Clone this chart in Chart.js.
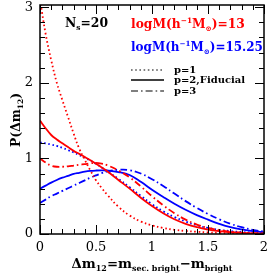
<!DOCTYPE html>
<html><head><meta charset="utf-8">
<script src="https://cdn.jsdelivr.net/npm/chart.js@4/dist/chart.umd.min.js"></script>
<style>html,body{margin:0;padding:0;background:#fff}#wrap{width:269px;height:274px;position:relative}</style>
</head><body><div id="wrap"><canvas id="c" width="269" height="274"></canvas></div>
<script>
const X = [0,0.05,0.1,0.15,0.2,0.25,0.3,0.35,0.4,0.45,0.5,0.55,0.6,0.7,0.8,0.9,1.0,1.1,1.2,1.3,1.4,1.5,1.6,1.7,1.8,1.9,2.0];
const redP1  = [3.1,2.65,2.3,2.0,1.77,1.55,1.33,1.13,0.98,0.84,0.71,0.61,0.52,0.36,0.245,0.165,0.115,0.08,0.056,0.04,0.03,0.021,0.015,0.011,0.008,0.006,0.004];
const redP2  = [1.5,1.40,1.31,1.25,1.2,1.15,1.1,1.06,1.02,0.975,0.93,0.88,0.83,0.715,0.6,0.48,0.37,0.275,0.195,0.135,0.09,0.058,0.037,0.023,0.014,0.008,0.005];
const redP3  = [1.0,0.945,0.905,0.89,0.89,0.895,0.905,0.915,0.925,0.935,0.94,0.93,0.91,0.84,0.75,0.63,0.5,0.38,0.275,0.19,0.125,0.08,0.05,0.03,0.018,0.01,0.006];
const blueP1 = [1.21,1.2,1.185,1.165,1.14,1.11,1.08,1.045,1.01,0.97,0.93,0.88,0.83,0.73,0.62,0.505,0.395,0.3,0.225,0.165,0.115,0.08,0.056,0.038,0.026,0.018,0.012];
const blueP2 = [0.6,0.64,0.68,0.715,0.745,0.77,0.795,0.81,0.825,0.835,0.84,0.842,0.84,0.82,0.78,0.69,0.585,0.49,0.4,0.32,0.25,0.19,0.135,0.09,0.06,0.037,0.022];
const blueP3 = [0.41,0.455,0.5,0.535,0.57,0.605,0.64,0.675,0.71,0.745,0.775,0.805,0.828,0.85,0.845,0.80,0.725,0.635,0.535,0.435,0.345,0.265,0.195,0.135,0.09,0.055,0.032];
const xTickLabels = ['0','0.5','1','1.5','2'];
const yTickLabels = ['0','1','2','3'];
const legendLabels = ['p=1','p=2,Fiducial','p=3'];

const RED='#ff0000', BLUE='#0000ff';
const DOT=[1.6,2.6], SOLID=[], DASHDOT=[7,3,1.6,3];
const FAM='"DejaVu Serif", serif';

function ds(ys,color,dash,w){
  return {data:X.map((x,i)=>({x:x,y:ys[i]})),borderColor:color,borderDash:dash,borderWidth:w,
    pointRadius:0,fill:false,tension:0.4,cubicInterpolationMode:'default'};
}

function richWidth(ctx,segs,size){
  let w=0;
  for(const s of segs){ const fs=(s.sub||s.sup)?size*0.6:size; ctx.font=`bold ${fs}px ${FAM}`; w+=ctx.measureText(s.t).width; }
  return w;
}
function drawRich(ctx,segs,x,y,size,color,align,target,weight){
  weight=weight||'bold';
  let sz=size;
  if(target){ sz=size*target/richWidth(ctx,segs,size); }
  const w=richWidth(ctx,segs,sz);
  let cx = align==='center'? x-w/2 : (align==='right'? x-w : x);
  ctx.fillStyle=color; ctx.textBaseline='alphabetic'; ctx.textAlign='left';
  for(const s of segs){
    const fs=(s.sub||s.sup)?sz*0.6:sz;
    ctx.font=`${weight} ${fs}px ${FAM}`;
    const dy = s.sub? sz*0.25 : (s.sup? -sz*0.4 : 0);
    ctx.fillText(s.t,cx,y+dy);
    cx+=ctx.measureText(s.t).width;
  }
}

const decor={
  id:'decor',
  afterDraw(chart){
    const ctx=chart.ctx, a=chart.chartArea, xs=chart.scales.x, ys=chart.scales.y;
    ctx.save();
    ctx.strokeStyle='#000'; ctx.lineWidth=1;
    for(let i=0;i<=20;i++){
      const v=i*0.1, px=Math.round(xs.getPixelForValue(v))+0.5, L=(i%5===0)?9:5;
      ctx.beginPath(); ctx.moveTo(px,a.bottom); ctx.lineTo(px,a.bottom-L);
      ctx.moveTo(px,a.top); ctx.lineTo(px,a.top+L); ctx.stroke();
    }
    for(let i=0;i<=15;i++){
      const v=i*0.2; if(v>ys.max) continue;
      const py=Math.round(ys.getPixelForValue(v))+0.5, L=(i%5===0)?9:5;
      ctx.beginPath(); ctx.moveTo(a.left,py); ctx.lineTo(a.left+L,py);
      ctx.moveTo(a.right,py); ctx.lineTo(a.right-L,py); ctx.stroke();
    }
    ctx.lineWidth=1.5; ctx.strokeRect(a.left,a.top,a.right-a.left,a.bottom-a.top);
    ctx.fillStyle='#000'; ctx.font=`13px ${FAM}`; ctx.textAlign='center'; ctx.textBaseline='middle';
    xTickLabels.forEach(t=>{ ctx.fillText(t, xs.getPixelForValue(parseFloat(t)), a.bottom+14); });
    ctx.textAlign='right';
    yTickLabels.forEach(t=>{ ctx.fillText(t, a.left-7, ys.getPixelForValue(parseFloat(t))); });
    drawRich(ctx,[{t:'Δm'},{t:'12',sub:true},{t:'=m'},{t:'sec. bright',sub:true},{t:'−m'},{t:'bright',sub:true}],152,268,13,'#000','center',161);
    ctx.save(); ctx.translate(20,120); ctx.rotate(-Math.PI/2);
    drawRich(ctx,[{t:'P(Δm'},{t:'12',sub:true},{t:')'}],0,0,13,'#000','center',54);
    ctx.restore();
    drawRich(ctx,[{t:'N'},{t:'s',sub:true},{t:'=20'}],65,27,13,'#000','left',43);
    drawRich(ctx,[{t:'logM(h'},{t:'−1',sup:true},{t:'M'},{t:'⊙',sub:true},{t:')=13'}],131,28,13,RED,'left',114);
    drawRich(ctx,[{t:'logM(h'},{t:'−1',sup:true},{t:'M'},{t:'⊙',sub:true},{t:')=15.25'}],131,51,13,BLUE,'left',132);
    const dashes=[DOT,SOLID,DASHDOT], ly=[70,80,91];
    ctx.strokeStyle='#000';
    legendLabels.forEach((t,i)=>{
      ctx.lineWidth= i===1?1.5:1.2; ctx.setLineDash(dashes[i]);
      ctx.beginPath(); ctx.moveTo(131,ly[i]); ctx.lineTo(164,ly[i]); ctx.stroke();
      ctx.setLineDash([]);
      ctx.fillStyle='#000'; ctx.font=`bold 10px ${FAM}`; ctx.textAlign='left'; ctx.textBaseline='middle';
      ctx.fillText(t,174,ly[i]);
    });
    ctx.restore();
  }
};

new Chart(document.getElementById('c'),{
  type:'line',
  data:{datasets:[
    ds(redP1,RED,DOT,1.8), ds(redP2,RED,SOLID,1.8), ds(redP3,RED,DASHDOT,1.8),
    ds(blueP1,BLUE,DOT,1.8), ds(blueP2,BLUE,SOLID,1.8), ds(blueP3,BLUE,DASHDOT,1.8)
  ]},
  options:{
    responsive:false, animation:false, events:[],
    layout:{padding:{left:40,right:5,top:5,bottom:40}},
    plugins:{legend:{display:false},tooltip:{enabled:false}},
    scales:{
      x:{type:'linear',min:0,max:2,display:false},
      y:{type:'linear',min:0,max:3.03,display:false}
    }
  },
  plugins:[decor]
});
</script></body></html>
